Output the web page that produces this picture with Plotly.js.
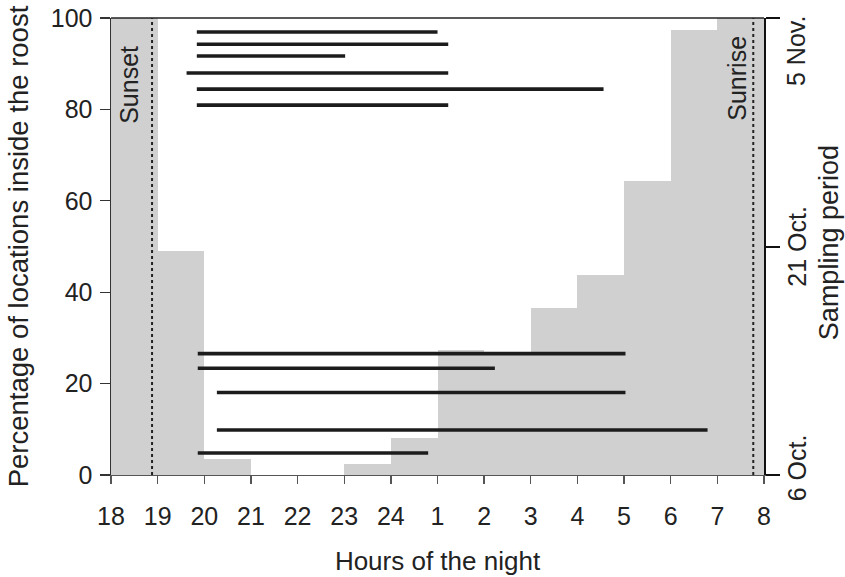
<!DOCTYPE html>
<html>
<head>
<meta charset="utf-8">
<script src="https://cdn.plot.ly/plotly-3.0.1.min.js"></script>
<style>html,body{margin:0;padding:0;background:#fff;}#chart{width:845px;height:577px;}</style>
</head>
<body>
<div id="chart"></div>
<script>
// Hour tick labels (hours of the night, from 18:00 to 08:00)
const hourLabels = ['18','19','20','21','22','23','24','1','2','3','4','5','6','7','8'];
// Percentage of locations inside the roost for each hourly bin (18-19 ... 7-8)
const pctInside = [100, 49, 3.5, 0, 0, 2.5, 8.2, 27.4, 26.9, 36.5, 43.8, 64.3, 97.4, 100];
// Activity periods of individual nights: start/end in hours after 18:00, day of sampling (0 = 6 Oct.)
const segStart = [1.84, 1.84, 1.84, 1.62, 1.84, 1.84, 1.86, 1.86, 2.27, 2.27, 1.86];
const segEnd   = [7.00, 7.23, 5.02, 7.23, 10.56, 7.23, 11.03, 8.23, 11.03, 12.79, 6.80];
const segDay   = [29.08, 28.28, 27.51, 26.39, 25.33, 24.28, 7.97, 7.01, 5.42, 2.95, 1.44];
// Sunset / sunrise in hours after 18:00
const sunsetHour = 0.88;
const sunriseHour = 13.77;
// Sampling period axis
const dateTickVals = [0, 15, 30];
const dateTickText = ['6 Oct.', '21 Oct.', '5 Nov.'];

const FONT = 'Liberation Sans, Arial, sans-serif';
const TXT = '#222';

const binCenters = pctInside.map((v, i) => i + 0.5);
const hourTickVals = hourLabels.map((l, i) => i);

const segX = [], segY = [];
segStart.forEach((s, i) => {
  segX.push(s, segEnd[i], null);
  segY.push(segDay[i], segDay[i], null);
});

const traces = [
  {
    type: 'bar', x: binCenters, y: pctInside, width: 1,
    marker: {color: '#d0d0d0', line: {width: 0}},
    hoverinfo: 'skip', showlegend: false
  },
  {
    type: 'scatter', mode: 'lines', x: segX, y: segY, yaxis: 'y2',
    line: {color: '#1c1c1c', width: 3.6}, connectgaps: false,
    hoverinfo: 'skip', showlegend: false
  }
];

// date tick label positions (paper y) from the sampling-period axis
const dateLabelY = [0.016, 0.501, 0.927];
const annotations = dateTickText.map((t, i) => ({
  text: t, xref: 'paper', yref: 'paper', x: 1.05, y: dateLabelY[i],
  showarrow: false, textangle: -90, font: {family: FONT, size: 25, color: TXT},
  xanchor: 'center', yanchor: 'middle'
}));
annotations.push(
  {text: 'Sampling period', xref: 'paper', yref: 'paper', x: 1.1, y: 0.508,
   showarrow: false, textangle: -90, font: {family: FONT, size: 27, color: TXT},
   xanchor: 'center', yanchor: 'middle'},
  {text: 'Sunset', xref: 'x', yref: 'y', x: 0.4, y: 85.3,
   showarrow: false, textangle: -90, font: {family: FONT, size: 25, color: TXT},
   xanchor: 'center', yanchor: 'middle'},
  {text: 'Sunrise', xref: 'x', yref: 'y', x: 13.43, y: 86.8,
   showarrow: false, textangle: -90, font: {family: FONT, size: 25, color: TXT},
   xanchor: 'center', yanchor: 'middle'}
);

const layout = {
  width: 845, height: 577,
  margin: {l: 111, r: 81, t: 18, b: 102, pad: 0},
  paper_bgcolor: '#fff', plot_bgcolor: '#fff',
  bargap: 0,
  font: {family: FONT, color: TXT},
  xaxis: {
    range: [0, 14], tickmode: 'array', tickvals: hourTickVals, ticktext: hourLabels,
    ticks: 'outside', ticklen: 8, tickwidth: 1.3, tickcolor: '#555',
    showline: true, linecolor: '#555', linewidth: 1.3,
    showgrid: false, zeroline: false,
    tickfont: {family: FONT, size: 25, color: TXT},
    ticklabelstandoff: 11,
    title: {text: 'Hours of the night', font: {family: FONT, size: 26, color: TXT}, standoff: 22}
  },
  yaxis: {
    range: [0, 100], tickmode: 'array', tickvals: [0, 20, 40, 60, 80, 100],
    ticks: 'outside', ticklen: 10, tickwidth: 1.3, tickcolor: '#333',
    showline: true, linecolor: '#333', linewidth: 1.5,
    showgrid: false, zeroline: false,
    tickfont: {family: FONT, size: 25, color: TXT},
    ticklabelstandoff: 2,
    title: {text: 'Percentage of locations inside the roost', font: {family: FONT, size: 27.5, color: TXT}, standoff: 14}
  },
  yaxis2: {
    overlaying: 'y', side: 'right', range: [0, 30],
    tickmode: 'array', tickvals: dateTickVals, showticklabels: false,
    ticks: 'outside', ticklen: 14, tickwidth: 2, tickcolor: '#111',
    showline: true, linecolor: '#111', linewidth: 2.2,
    showgrid: false, zeroline: false
  },
  shapes: [
    {type: 'line', xref: 'paper', yref: 'paper', x0: 0, x1: 1, y0: 1, y1: 1,
     line: {color: '#222', width: 1.5}},
    {type: 'line', xref: 'x', yref: 'y', x0: sunsetHour, x1: sunsetHour, y0: 0, y1: 100,
     line: {color: '#222', width: 2, dash: 'dot'}},
    {type: 'line', xref: 'x', yref: 'y', x0: sunriseHour, x1: sunriseHour, y0: 0, y1: 100,
     line: {color: '#222', width: 2, dash: 'dot'}}
  ],
  annotations: annotations
};

Plotly.newPlot('chart', traces, layout, {staticPlot: true, displayModeBar: false});
</script>
</body>
</html>
